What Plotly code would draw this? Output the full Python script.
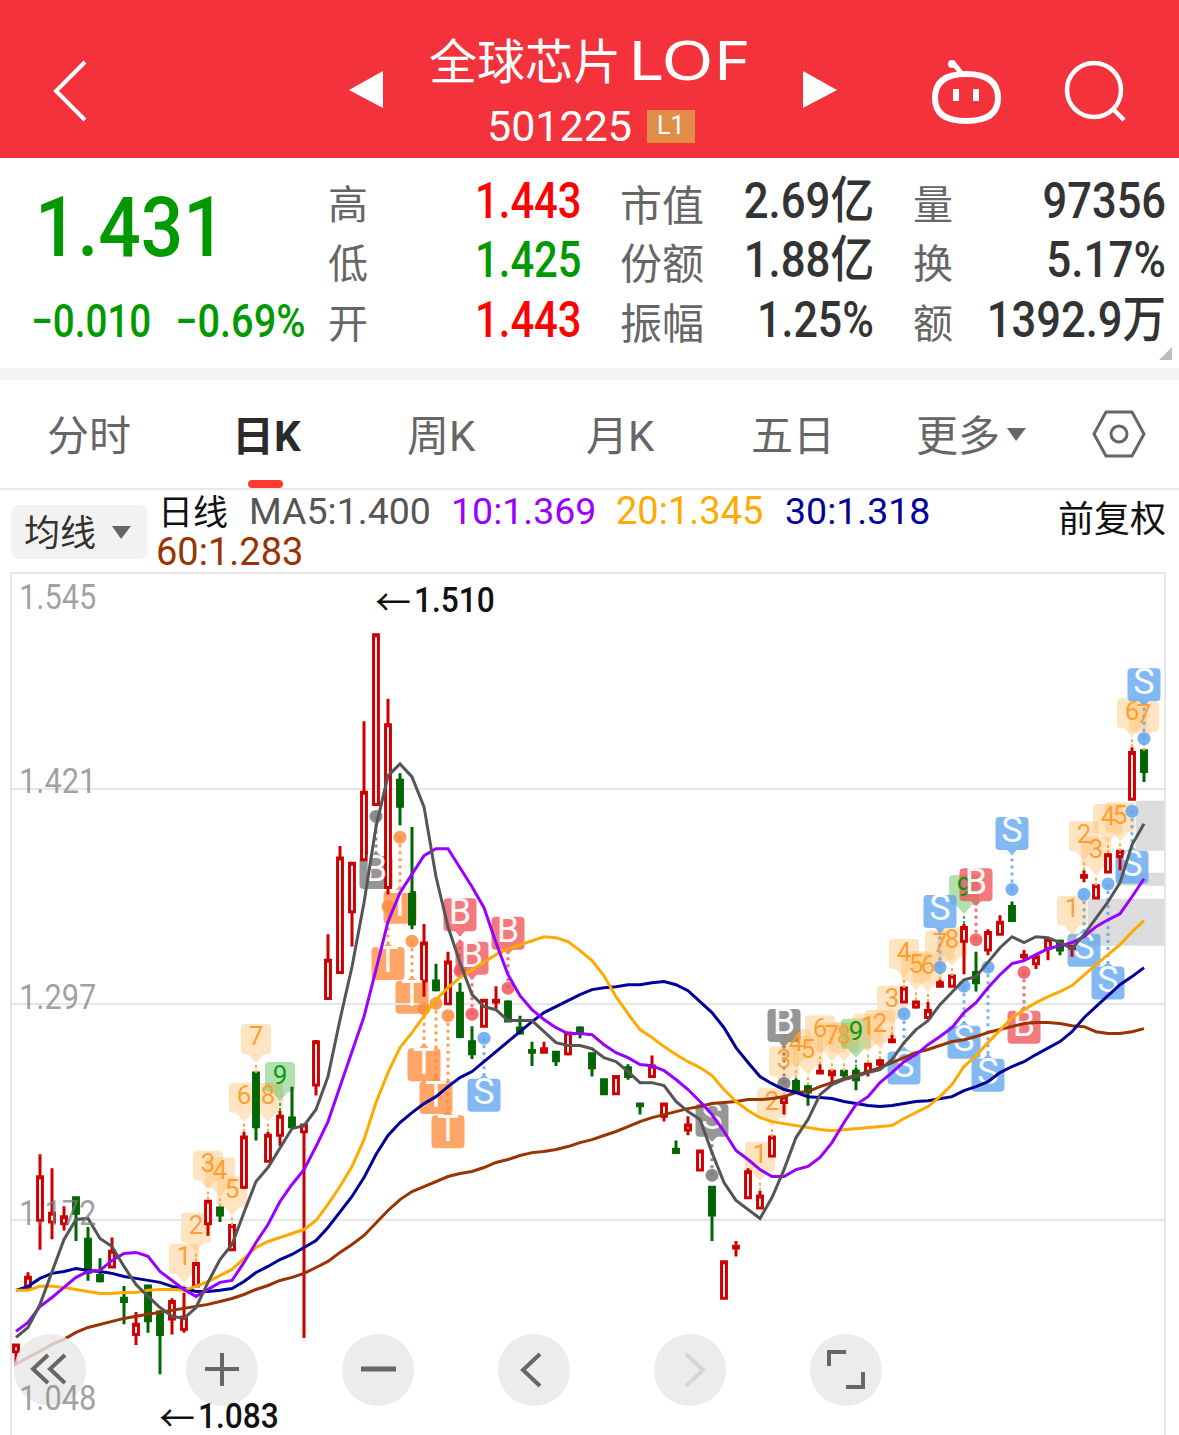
import json
import plotly.graph_objects as go

W, H = 1179, 1435

# ---------- market data ----------
opens = [1.096,1.133,1.172,1.171,1.170,1.185,1.161,1.140,1.145,1.127,
         1.106,1.134,1.119,1.115,1.109,1.134,1.170,1.179,1.155,1.191,
         1.257,1.206,1.221,1.231,1.223,1.250,1.300,1.315,1.350,1.380,
         1.412,1.364,1.426,1.361,1.310,1.310,1.297,1.303,1.275,1.284,
         1.298,1.298,1.283,1.270,1.269,1.269,1.268,1.283,1.268,1.253,
         1.245,1.260,1.239,1.255,1.232,1.213,1.224,1.201,1.191,1.127,
         1.156,1.185,1.179,1.209,1.240,1.252,1.249,1.257,1.256,1.258,
         1.258,1.258,1.262,1.275,1.298,1.295,1.289,1.307,1.307,1.333,
         1.315,1.328,1.337,1.353,1.324,1.320,1.329,1.333,1.329,1.370,
         1.358,1.373,1.382,1.415,1.443]
closes = [1.100,1.139,1.197,1.176,1.174,1.176,1.142,1.137,1.154,1.125,
          1.112,1.114,1.106,1.125,1.116,1.147,1.183,1.175,1.169,1.220,
          1.226,1.221,1.232,1.226,1.227,1.275,1.322,1.381,1.378,1.419,
          1.510,1.458,1.411,1.343,1.332,1.305,1.321,1.278,1.268,1.299,
          1.299,1.287,1.280,1.269,1.271,1.264,1.280,1.280,1.260,1.245,
          1.255,1.255,1.238,1.261,1.239,1.211,1.227,1.212,1.175,1.148,
          1.157,1.200,1.186,1.220,1.243,1.247,1.246,1.258,1.258,1.256,
          1.253,1.262,1.264,1.276,1.306,1.298,1.293,1.309,1.313,1.341,
          1.309,1.338,1.344,1.345,1.325,1.324,1.334,1.328,1.330,1.371,
          1.365,1.383,1.385,1.442,1.431]
highs = [1.100,1.142,1.210,1.202,1.180,1.185,1.168,1.150,1.162,1.134,
         1.119,1.134,1.120,1.127,1.130,1.148,1.184,1.180,1.169,1.223,
         1.257,1.223,1.235,1.249,1.227,1.276,1.337,1.388,1.378,1.460,
         1.510,1.473,1.430,1.399,1.343,1.320,1.327,1.309,1.284,1.299,
         1.307,1.299,1.290,1.275,1.275,1.269,1.280,1.284,1.268,1.254,
         1.255,1.262,1.240,1.267,1.239,1.218,1.232,1.212,1.191,1.148,
         1.160,1.202,1.189,1.220,1.244,1.254,1.250,1.262,1.258,1.258,
         1.260,1.263,1.265,1.279,1.306,1.299,1.298,1.311,1.313,1.343,
         1.327,1.340,1.348,1.356,1.328,1.325,1.335,1.334,1.331,1.374,
         1.365,1.384,1.385,1.445,1.443]
lows = [1.088,1.133,1.155,1.161,1.166,1.160,1.137,1.136,1.145,1.112,
        1.100,1.107,1.083,1.106,1.107,1.134,1.163,1.171,1.155,1.190,
        1.218,1.206,1.215,1.226,1.104,1.244,1.300,1.315,1.330,1.380,
        1.412,1.360,1.400,1.340,1.301,1.304,1.297,1.277,1.265,1.284,
        1.294,1.287,1.279,1.261,1.268,1.261,1.267,1.277,1.255,1.245,
        1.245,1.253,1.233,1.255,1.229,1.211,1.221,1.201,1.160,1.127,
        1.151,1.185,1.179,1.209,1.233,1.246,1.238,1.257,1.251,1.253,
        1.247,1.255,1.259,1.275,1.298,1.294,1.289,1.307,1.307,1.314,
        1.304,1.325,1.337,1.345,1.322,1.317,1.322,1.325,1.324,1.367,
        1.358,1.373,1.374,1.415,1.425]

ma5 = [1.1043,1.1101,1.1234,1.1424,1.1609,1.1724,1.1730,1.1614,1.1568,1.1453,
       1.1349,1.1280,1.1216,1.1165,1.1153,1.1216,1.1361,1.1493,1.1580,1.1764,
       1.1943,1.2024,1.2139,1.2249,1.2266,1.2359,1.2549,1.2878,1.3183,1.3552,
       1.3991,1.4285,1.4354,1.4279,1.4106,1.3702,1.3414,1.3206,1.3022,1.2953,
       1.2935,1.2872,1.2872,1.2872,1.2808,1.2745,1.2728,1.2728,1.2710,1.2658,
       1.2635,1.2578,1.2514,1.2514,1.2497,1.2405,1.2347,1.2301,1.2110,1.1937,
       1.1834,1.1782,1.1730,1.1851,1.2012,1.2197,1.2301,1.2445,1.2503,1.2532,
       1.2549,1.2572,1.2589,1.2647,1.2745,1.2820,1.2872,1.2964,1.3039,1.3108,
       1.3126,1.3212,1.3293,1.3356,1.3322,1.3356,1.3350,1.3322,1.3287,1.3368,
       1.3466,1.3558,1.3668,1.3887,1.4008]
ma10 = [1.1078,1.1130,1.1222,1.1274,1.1332,1.1390,1.1424,1.1430,1.1488,1.1528,
        1.1534,1.1511,1.1424,1.1372,1.1320,1.1280,1.1320,1.1361,1.1372,1.1476,
        1.1591,1.1695,1.1828,1.1926,1.2012,1.2145,1.2289,1.2491,1.2705,1.2895,
        1.3166,1.3443,1.3610,1.3714,1.3824,1.3864,1.3864,1.3754,1.3645,1.3524,
        1.3322,1.3137,1.3016,1.2935,1.2878,1.2831,1.2797,1.2797,1.2791,1.2733,
        1.2687,1.2658,1.2618,1.2612,1.2584,1.2532,1.2474,1.2405,1.2330,1.2232,
        1.2122,1.2070,1.2012,1.1972,1.1972,1.2012,1.2030,1.2082,1.2168,1.2284,
        1.2387,1.2433,1.2514,1.2572,1.2635,1.2676,1.2733,1.2780,1.2831,1.2918,
        1.2976,1.3062,1.3137,1.3201,1.3218,1.3253,1.3287,1.3304,1.3322,1.3356,
        1.3414,1.3454,1.3489,1.3587,1.3691]
ma20 = [1.1315,1.1315,1.1338,1.1338,1.1332,1.1320,1.1309,1.1297,1.1297,1.1303,
        1.1303,1.1315,1.1320,1.1320,1.1315,1.1338,1.1366,1.1401,1.1436,1.1499,
        1.1563,1.1597,1.1620,1.1643,1.1666,1.1718,1.1811,1.1914,1.2030,1.2185,
        1.2399,1.2572,1.2716,1.2803,1.2895,1.2993,1.3062,1.3120,1.3166,1.3212,
        1.3253,1.3287,1.3310,1.3333,1.3356,1.3350,1.3328,1.3276,1.3218,1.3131,
        1.3010,1.2912,1.2820,1.2774,1.2722,1.2676,1.2635,1.2601,1.2555,1.2474,
        1.2405,1.2353,1.2312,1.2289,1.2278,1.2266,1.2255,1.2243,1.2237,1.2243,
        1.2249,1.2255,1.2260,1.2266,1.2307,1.2341,1.2376,1.2433,1.2503,1.2607,
        1.2670,1.2745,1.2820,1.2889,1.2935,1.2976,1.3010,1.3039,1.3074,1.3137,
        1.3195,1.3253,1.3310,1.3385,1.3449]
ma30 = [1.1315,1.1338,1.1384,1.1413,1.1424,1.1441,1.1430,1.1424,1.1413,1.1395,
        1.1384,1.1372,1.1361,1.1338,1.1326,1.1309,1.1309,1.1315,1.1326,1.1366,
        1.1418,1.1453,1.1493,1.1522,1.1563,1.1603,1.1678,1.1770,1.1857,1.1966,
        1.2099,1.2209,1.2284,1.2341,1.2393,1.2433,1.2491,1.2543,1.2578,1.2635,
        1.2693,1.2751,1.2808,1.2866,1.2918,1.2953,1.2987,1.3022,1.3051,1.3062,
        1.3068,1.3079,1.3079,1.3091,1.3097,1.3079,1.3045,1.2981,1.2918,1.2831,
        1.2716,1.2630,1.2549,1.2508,1.2474,1.2457,1.2433,1.2428,1.2422,1.2405,
        1.2393,1.2382,1.2376,1.2382,1.2393,1.2405,1.2410,1.2422,1.2433,1.2468,
        1.2491,1.2520,1.2572,1.2607,1.2635,1.2676,1.2716,1.2751,1.2808,1.2889,
        1.2953,1.3016,1.3079,1.3126,1.3178]
ma60 = [1.0888,1.0928,1.0963,1.1003,1.1032,1.1072,1.1101,1.1118,1.1136,1.1153,
        1.1165,1.1176,1.1188,1.1199,1.1211,1.1222,1.1234,1.1251,1.1268,1.1291,
        1.1320,1.1343,1.1372,1.1390,1.1413,1.1447,1.1482,1.1534,1.1580,1.1632,
        1.1707,1.1776,1.1839,1.1885,1.1914,1.1943,1.1972,1.1989,1.2001,1.2024,
        1.2053,1.2070,1.2093,1.2110,1.2116,1.2128,1.2145,1.2168,1.2185,1.2209,
        1.2232,1.2260,1.2289,1.2312,1.2330,1.2347,1.2364,1.2376,1.2393,1.2399,
        1.2405,1.2416,1.2416,1.2422,1.2433,1.2457,1.2462,1.2491,1.2514,1.2537,
        1.2555,1.2578,1.2601,1.2630,1.2658,1.2687,1.2705,1.2728,1.2751,1.2762,
        1.2780,1.2803,1.2820,1.2837,1.2855,1.2861,1.2861,1.2855,1.2843,1.2837,
        1.2808,1.2797,1.2797,1.2808,1.2826]

price_ticks = [1.545, 1.421, 1.297, 1.172, 1.048]
tick_labels = ["1.545", "1.421", "1.297", "1.172", "1.048"]

# numbered sequence labels: first candle of each run and its length
seq_starts = [14, 62, 71, 88]
seq_lengths = [9, 9, 9, 7]

# trade signals
sig_idx   = [30,31,32,33,34,35,36,37,38,41,39,58,64,74,77,79,80,81,83,84,89,91,93,94]
sig_text  = ["B","T","T","T","T","T","T","B","B","B","S","S","B","S","S","S","B","S","S","B","S","S","S","S"]
sig_gray  = [1,0,0,0,0,0,0,0,0,0,0,1,1,0,0,0,0,0,0,0,0,0,0,0]
sig_above = [0,0,0,0,0,0,0,1,1,1,0,1,1,0,1,0,1,0,1,0,0,0,0,1]
sig_gap   = [68,69,82,68,68,106,128,68,68,67,69,67,70,66,68,68,67,120,68,67,68,111,68,66]

# gray price bands on the right
band_low  = [1.3852, 1.3650, 1.3304]
band_high = [1.4141, 1.3725, 1.3576]
band_from = [93.3, 91.7, 89.3]

# ---------- layout constants ----------
CH_TOP, CH_L, CH_R = 574, 12, 1164
Y0, Y1 = 1.048, 1.545
PPP = (Y1 - Y0) / (H - CH_TOP)
XR = [(CH_L - 16) / 12, (CH_R - 16) / 12]

CJK = "Noto Sans CJK SC"
MIX = "Roboto, Noto Sans CJK SC"
xs = list(range(len(opens)))

# horizontal scale for texts whose digits are narrower than any installed font
text_scale = {
    "1.431": [0.89, "l"], "−0.010": [0.84, "l"], "−0.69%": [0.865, "l"],
    "1.443": [0.835, "r"], "1.425": [0.835, "r"],
    "2.69亿": [0.875, "r"], "1.88亿": [0.875, "r"], "1.25%": [0.86, "r"],
    "97356": [0.87, "r"], "5.17%": [0.88, "r"], "1392.9万": [0.87, "r"],
    "1.545": [0.88, "l"], "1.421": [0.88, "l"], "1.297": [0.88, "l"],
    "1.172": [0.88, "l"], "1.048": [0.88, "l"],
    "1.510": [0.88, "l"], "1.083": [0.88, "l"], "LOF": [1.21, "l"],
}

fig = go.Figure()
shapes, anns = [], []


def px(x): return x / W
def py(y): return 1 - y / H


def rect(x0, y0, x1, y1, fill, layer="below"):
    shapes.append(dict(type="rect", xref="paper", yref="paper", x0=px(x0), x1=px(x1),
                       y0=py(y0), y1=py(y1), fillcolor=fill, line_width=0, layer=layer))


def round_rect(x0, y0, x1, y1, r, fill):
    d = (f"M{px(x0+r)},{py(y0)} L{px(x1-r)},{py(y0)} Q{px(x1)},{py(y0)} {px(x1)},{py(y0+r)} "
         f"L{px(x1)},{py(y1-r)} Q{px(x1)},{py(y1)} {px(x1-r)},{py(y1)} L{px(x0+r)},{py(y1)} "
         f"Q{px(x0)},{py(y1)} {px(x0)},{py(y1-r)} L{px(x0)},{py(y0+r)} Q{px(x0)},{py(y0)} {px(x0+r)},{py(y0)} Z")
    shapes.append(dict(type="path", xref="paper", yref="paper", path=d, fillcolor=fill,
                       line_width=0, layer="below"))


def poly(points, color=None, fill=None, width=4, close=False, layer="below"):
    d = "M" + " L".join(f"{px(a):.5f},{py(b):.5f}" for a, b in points) + (" Z" if close else "")
    shapes.append(dict(type="path", xref="paper", yref="paper", path=d, layer=layer,
                       fillcolor=fill or "rgba(0,0,0,0)",
                       line=dict(color=color or "rgba(0,0,0,0)", width=width if color else 0)))


def circle(cx, cy, rx, ry=None, fill=None, color=None, width=3, layer="below"):
    ry = ry or rx
    shapes.append(dict(type="circle", xref="paper", yref="paper", layer=layer,
                       x0=px(cx - rx), x1=px(cx + rx), y0=py(cy + ry), y1=py(cy - ry),
                       fillcolor=fill or "rgba(0,0,0,0)",
                       line=dict(color=color or "rgba(0,0,0,0)", width=width if color else 0)))


def txt(s, x, y, size, color, anchor="left", font=MIX, bold=False, fw=None):
    t = f"<b>{s}</b>" if bold else s
    f = dict(size=size, color=color, family=font)
    if fw:
        f["weight"] = fw
    anns.append(dict(text=t, xref="paper", yref="paper", x=px(x), y=py(y), showarrow=False,
                     xanchor=anchor, yanchor="middle", font=f))


def label_path(h, tip, wing, s):
    r = 4
    return (f"M {-h+r} {s*h} L {h-r} {s*h} Q {h} {s*h} {h} {s*(h-r)} L {h} {s*(-h+r)} "
            f"Q {h} {s*-h} {h-r} {s*-h} L {wing} {s*-h} L 0 {s*(-h-tip)} L {-wing} {s*-h} "
            f"L {-h+r} {s*-h} Q {-h} {s*-h} {-h} {s*(-h+r)} L {-h} {s*(h-r)} Q {-h} {s*h} {-h+r} {s*h} Z")


def label_shape(i, price, path, fill):
    shapes.append(dict(type="path", xref="x", yref="y", xsizemode="pixel", ysizemode="pixel",
                       xanchor=i, yanchor=price, path=path, fillcolor=fill, line_width=0, layer="below"))


# ---------- price bands ----------
for lo, hi, fr in zip(band_low, band_high, band_from):
    shapes.append(dict(type="rect", xref="x", yref="y", x0=fr, x1=XR[1], y0=lo, y1=hi,
                       fillcolor="#DCDCDC", line_width=0, layer="below"))

# ---------- candles ----------
fig.add_trace(go.Candlestick(
    x=xs, open=opens, high=highs, low=lows, close=closes, hoverinfo="skip",
    whiskerwidth=0,
    increasing=dict(line=dict(color="#CC0000", width=3), fillcolor="#FFFFFF"),
    decreasing=dict(line=dict(color="#006600", width=3), fillcolor="#006600"),
    showlegend=False))

# ---------- numbered labels ----------
NUM_FILL = "rgba(255,190,110,0.42)"
NUM9_FILL = "rgba(70,180,70,0.42)"
nx, ny, nt, nc = [], [], [], []
stem_o_x, stem_o_y, stem_g_x, stem_g_y = [], [], [], []
for st, ln in zip(seq_starts, seq_lengths):
    for k in range(ln):
        i = st + k
        center = highs[i] + 34 * PPP
        is9 = k == 8
        label_shape(i, center, label_path(15, 9, 8, 1), NUM9_FILL if is9 else NUM_FILL)
        nx.append(i); ny.append(center); nt.append(str(k + 1))
        nc.append("rgba(0,150,0,0.95)" if is9 else "rgba(255,155,40,0.95)")
        if is9:
            stem_g_x += [i, i, None]; stem_g_y += [highs[i], center - 24 * PPP, None]
        else:
            stem_o_x += [i, i, None]; stem_o_y += [highs[i], center - 24 * PPP, None]

fig.add_trace(go.Scatter(x=stem_o_x, y=stem_o_y, mode="lines", hoverinfo="skip", showlegend=False,
                         line=dict(color="#FFA94D", width=2, dash="3px,2px")))
fig.add_trace(go.Scatter(x=stem_g_x, y=stem_g_y, mode="lines", hoverinfo="skip", showlegend=False,
                         line=dict(color="#3DAA3D", width=2, dash="3px,2px")))

# ---------- trade signals ----------
SIG_COL = {"T": (255, 140, 60), "B": (238, 85, 90), "S": (95, 165, 240)}
groups = {}
sx, sy, st_ = [], [], []
for i, t, g, a, gap in zip(sig_idx, sig_text, sig_gray, sig_above, sig_gap):
    rgb = (120, 120, 120) if g else SIG_COL[t]
    sign = 1 if a else -1
    base = highs[i] if a else lows[i]
    center = base + sign * gap * PPP
    dot = base + sign * 12 * PPP
    fill = "rgba(%d,%d,%d,0.78)" % rgb
    label_shape(i, center, label_path(16.5, 5, 5, 1 if a else -1), fill)
    gr = groups.setdefault(rgb, dict(x=[], y=[], dx=[], dy=[]))
    gr["x"] += [i, i, None]
    gr["y"] += [dot, center - sign * 20 * PPP, None]
    gr["dx"].append(i); gr["dy"].append(dot)
    sx.append(i); sy.append(center); st_.append(t)

for rgb, gr in groups.items():
    col = "rgba(%d,%d,%d,0.85)" % rgb
    fig.add_trace(go.Scatter(x=gr["x"], y=gr["y"], mode="lines", hoverinfo="skip", showlegend=False,
                             line=dict(color=col, width=3, dash="3px,4px")))
    fig.add_trace(go.Scatter(x=gr["dx"], y=gr["dy"], mode="markers", hoverinfo="skip", showlegend=False,
                             marker=dict(color=col, size=13, line_width=0)))

fig.add_trace(go.Scatter(x=nx, y=ny, mode="text", text=nt, textposition="middle center", hoverinfo="skip",
                         showlegend=False, textfont=dict(size=26, color=nc, family="Roboto")))
fig.add_trace(go.Scatter(x=sx, y=sy, mode="text", text=st_, textposition="middle center", hoverinfo="skip",
                         showlegend=False, textfont=dict(size=36, color="rgba(255,255,255,0.95)", family="Roboto")))

# ---------- moving averages ----------
for vals, col in [(ma60, "#993300"), (ma30, "#000099"), (ma20, "#FFAA00"), (ma10, "#9900FF"), (ma5, "#555555")]:
    fig.add_trace(go.Scatter(x=xs, y=vals, mode="lines", hoverinfo="skip", showlegend=False,
                             line=dict(color=col, width=3)))

# ---------- price axis labels ----------
for v, s, sh in zip(price_ticks, tick_labels, [-23, 7, 6, 7, 37]):
    anns.append(dict(text=s, xref="x", yref="y", x=(17 - 16) / 12, y=v, yshift=sh, showarrow=False,
                     xanchor="left", yanchor="middle",
                     font=dict(size=35, color="rgba(125,125,125,0.72)", family="Roboto")))

# extreme markers, tied to the highest and lowest candles
imax = highs.index(max(highs))
imin = lows.index(min(lows))
for idx, val, sh in [(imax, max(highs), 35), (imin, min(lows), -42)]:
    anns.append(dict(text="←", xref="x", yref="y", x=idx, y=val, yshift=sh, xshift=-3, showarrow=False,
                     xanchor="left", yanchor="middle", font=dict(size=36, color="#111111", family=CJK)))
    anns.append(dict(text=f"{val:.3f}", xref="x", yref="y", x=idx, y=val, yshift=sh, xshift=36, showarrow=False,
                     xanchor="left", yanchor="middle", font=dict(size=36, color="#111111", family="Roboto", weight=500)))

# ---------- header ----------
rect(0, 0, W, 158, "#F4323C")
poly([(85, 62), (56, 91), (85, 120)], color="#FFFFFF", width=4)
poly([(349, 90), (383, 71), (383, 108)], fill="#FFFFFF", close=True)
poly([(803, 71), (803, 108), (837, 90)], fill="#FFFFFF", close=True)
txt("全球芯片", 427, 58, 48, "#FFFFFF", font=CJK)
txt("LOF", 626, 59, 55, "#FFFFFF", font="Noto Sans")
txt("501225", 485, 126, 43, "#FFFFFF", font="Roboto")
rect(647, 110, 695, 143, "#E28D47")
txt("L1", 671, 126, 25, "#FFFFFF", anchor="center", font="Roboto")
# robot icon
shapes.append(dict(type="path", xref="paper", yref="paper", layer="below",
                   path=(f"M{px(935)},{py(98)} Q{px(935)},{py(74)} {px(966)},{py(74)} "
                         f"Q{px(998)},{py(74)} {px(998)},{py(98)} Q{px(998)},{py(121)} {px(966)},{py(121)} "
                         f"Q{px(935)},{py(121)} {px(935)},{py(98)} Z"),
                   fillcolor="rgba(0,0,0,0)", line=dict(color="#FFFFFF", width=6)))
poly([(954, 64), (962, 74)], color="#FFFFFF", width=5)
circle(952, 64, 4, fill="#FFFFFF")
poly([(956, 89), (956, 101)], color="#FFFFFF", width=6)
poly([(976, 89), (976, 101)], color="#FFFFFF", width=6)
# search icon
circle(1094, 90, 27, color="#FFFFFF", width=4.5)
poly([(1113, 109), (1124, 120)], color="#FFFFFF", width=4.5)

# ---------- quote panel ----------
GREEN, RED, DARK, GREY = "#009900", "#FF0000", "#333333", "#666666"
txt("1.431", 33, 228, 84, GREEN, font="Roboto", fw=500)
txt("−0.010", 29, 321, 46, GREEN, font="Roboto", fw=500)
txt("−0.69%", 173, 321, 46, GREEN, font="Roboto", fw=500)
for s, y, c, s2, v2, s3, v3 in [
    ("高", 202, ("1.443", RED), "市值", "2.69亿", "量", "97356"),
    ("低", 261, ("1.425", GREEN), "份额", "1.88亿", "换", "5.17%"),
    ("开", 321, ("1.443", RED), "振幅", "1.25%", "额", "1392.9万")]:
    txt(s, 348, y, 40, GREY, anchor="center", font=CJK)
    txt(c[0], 584, y - 1, 50, c[1], anchor="right", font="Roboto", fw=500)
    txt(s2, 662, y, 42, GREY, anchor="center", font=CJK)
    txt(v2, 876, y - 1, 50, DARK, anchor="right", fw=500)
    txt(s3, 933, y, 40, GREY, anchor="center", font=CJK)
    txt(v3, 1168, y - 1, 50, DARK, anchor="right", fw=500)
poly([(1172, 347), (1172, 360), (1159, 360)], fill="#BDBDBD", close=True)
rect(0, 368, W, 380, "#F5F5F5")

# ---------- tabs ----------
for s, x, c in [("分时", 89, GREY), ("周K", 441, GREY), ("月K", 620, GREY), ("五日", 793, GREY), ("更多", 958, GREY)]:
    txt(s, x, 436, 42, c, anchor="center")
txt("日K", 266, 436, 42, "#2B2B2B", anchor="center", bold=True)
poly([(1007, 428), (1026, 428), (1016, 441)], fill=GREY, close=True)
poly([(1094, 434), (1106, 412), (1132, 412), (1144, 434), (1132, 456), (1106, 456)], color=GREY, width=3, close=True)
circle(1119, 434, 8, color=GREY, width=3)
round_rect(248, 480, 283, 488, 4, "#FF3B30")
rect(0, 488, W, 490, "#E8E8E8")

# ---------- MA legend ----------
round_rect(11, 505, 147, 559, 8, "#F2F2F2")
txt("均线", 60, 530, 36, DARK, anchor="center", font=CJK)
poly([(112, 526), (131, 526), (121, 539)], fill=GREY, close=True)
txt("日线", 156, 509, 35, "#111111", font=CJK)
txt("MA5:1.400", 247, 511, 37.5, "#555555", font="Roboto")
txt("10:1.369", 449, 511, 37.5, "#9900FF", font="Roboto")
txt("20:1.345", 614, 511, 38, "#FFAA00", font="Roboto")
txt("30:1.318", 783, 511, 37.5, "#000099", font="Roboto")
txt("60:1.283", 154, 552, 38, "#993300", font="Roboto")
txt("前复权", 1168, 516, 36, "#111111", anchor="right", font=CJK)

# ---------- bottom buttons ----------
BTN = "rgba(232,232,232,0.82)"
for cx in [50, 222, 378, 534, 690, 846]:
    circle(cx, 1370, 36, fill=BTN, layer="above")
G2 = "#666666"
poly([(48, 1355), (33, 1369), (48, 1383)], color=G2, width=4, layer="above")
poly([(65, 1355), (50, 1369), (65, 1383)], color=G2, width=4, layer="above")
poly([(205, 1369), (239, 1369)], color=G2, width=4, layer="above")
poly([(222, 1353), (222, 1386)], color=G2, width=4, layer="above")
poly([(361, 1369), (396, 1369)], color=G2, width=5, layer="above")
poly([(540, 1354), (523, 1370), (540, 1386)], color=G2, width=4, layer="above")
poly([(686, 1354), (703, 1370), (686, 1386)], color="#D5D5D5", width=4, layer="above")
poly([(829, 1366), (829, 1352), (846, 1352)], color=G2, width=4, layer="above")
poly([(863, 1372), (863, 1387), (846, 1387)], color=G2, width=4, layer="above")

fig.update_layout(
    width=W, height=H, autosize=False,
    margin=dict(l=0, r=0, t=0, b=0, pad=0),
    paper_bgcolor="#FFFFFF", plot_bgcolor="#FFFFFF",
    showlegend=False, boxgap=0.42, hovermode=False, dragmode=False,
    shapes=shapes, annotations=anns,
    xaxis=dict(domain=[px(CH_L), px(CH_R)], range=XR, showgrid=False, zeroline=False,
               showticklabels=False, ticks="", showline=True, mirror=True, linecolor="#E6E6E6",
               linewidth=2, rangeslider=dict(visible=False), fixedrange=True),
    yaxis=dict(domain=[0, py(CH_TOP)], range=[Y0, Y1], tickmode="array", tickvals=price_ticks,
               showticklabels=False, ticks="", gridcolor="#E6E6E6", gridwidth=2, zeroline=False,
               showline=True, mirror=True, linecolor="#E6E6E6", linewidth=2, fixedrange=True),
)

post = """
document.body.style.margin='0';document.body.style.overflow='hidden';
var C = %s;
document.querySelectorAll('.annotation-text').forEach(function(t){
  var c = C[t.textContent]; if(!c) return;
  var b = t.getBBox();
  var ax = c[1]==='r' ? b.x+b.width : b.x;
  t.setAttribute('transform','translate('+(ax*(1-c[0]))+' 0) scale('+c[0]+' 1)');
});
""" % json.dumps(text_scale, ensure_ascii=False)

fig.write_html("out.html", config=dict(displayModeBar=False, staticPlot=True), post_script=post)
